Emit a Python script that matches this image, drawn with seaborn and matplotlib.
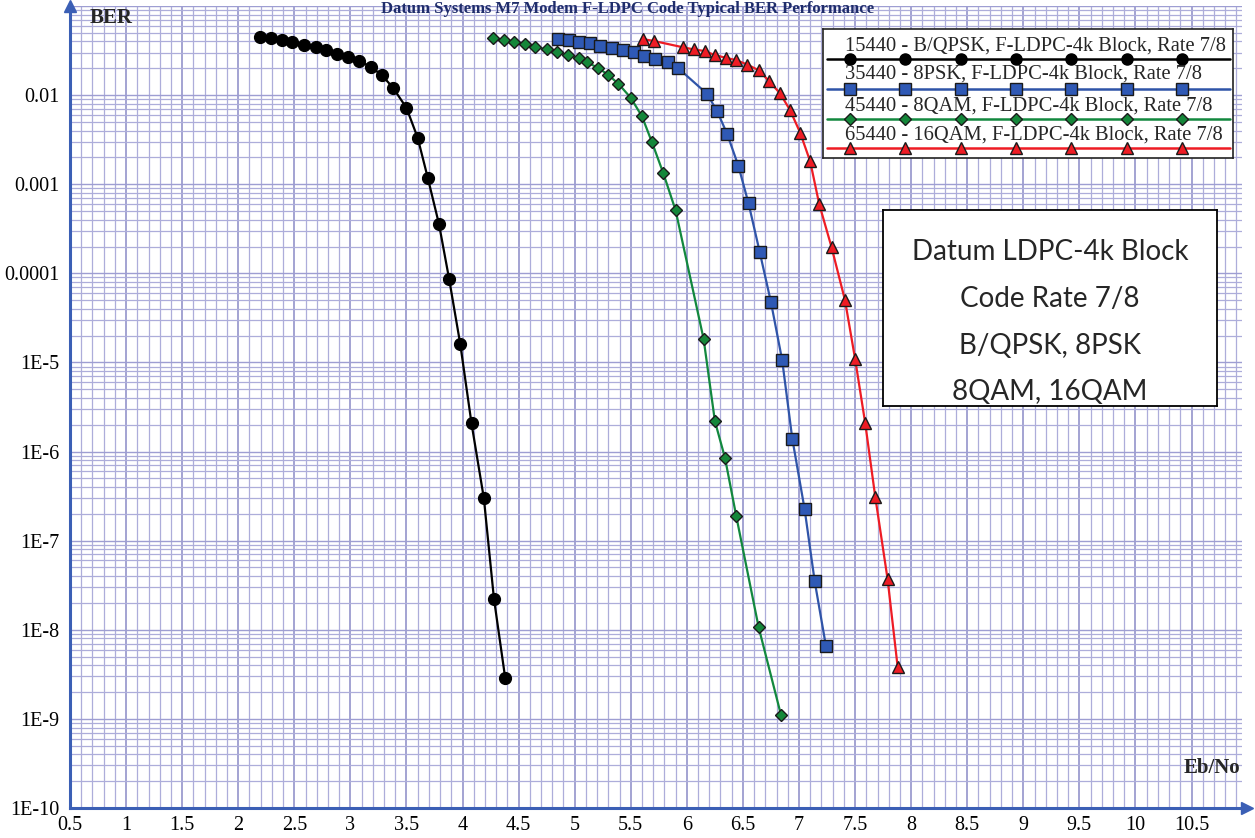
import numpy as np
import pandas as pd
import matplotlib
matplotlib.use("Agg")
import matplotlib.pyplot as plt
import matplotlib.ticker as mticker
import seaborn as sns

# ---------------- data ----------------
bpsk_x = [2.19, 2.29, 2.39, 2.48, 2.59, 2.69, 2.78, 2.88, 2.98, 3.08, 3.18, 3.28,
          3.38, 3.50, 3.60, 3.69, 3.79, 3.88, 3.98, 4.08, 4.19, 4.28, 4.38]
bpsk_y = [0.0451, 0.0433, 0.0414, 0.039, 0.0364, 0.0343, 0.032, 0.0291, 0.0267,
          0.0241, 0.0208, 0.0168, 0.0121, 0.0072, 0.00332, 0.00118, 3.57e-4,
          8.7e-5, 1.6e-5, 2.07e-6, 3.0e-7, 2.24e-8, 2.9e-9]

psk8_x = [4.85, 4.95, 5.04, 5.14, 5.23, 5.33, 5.43, 5.53, 5.62, 5.72, 5.83, 5.92,
          6.18, 6.27, 6.36, 6.46, 6.55, 6.65, 6.75, 6.85, 6.94, 7.05, 7.14, 7.24]
psk8_y = [0.0425, 0.0414, 0.039, 0.038, 0.0355, 0.034, 0.032, 0.0301, 0.0274,
          0.0254, 0.0233, 0.0202, 0.01035, 0.0066, 0.00365, 0.0016, 6.1e-4,
          1.73e-4, 4.75e-5, 1.06e-5, 1.4e-6, 2.26e-7, 3.5e-8, 6.6e-9]

qam8_x = [4.27, 4.37, 4.46, 4.56, 4.65, 4.75, 4.84, 4.94, 5.04, 5.11, 5.21, 5.30,
          5.39, 5.50, 5.60, 5.69, 5.79, 5.90, 6.15, 6.25, 6.34, 6.44, 6.64, 6.84]
qam8_y = [0.0433, 0.0414, 0.039, 0.037, 0.0346, 0.0326, 0.0301, 0.0281, 0.0258,
          0.0233, 0.0202, 0.0168, 0.0134, 0.00933, 0.00577, 0.00294, 0.00133,
          5.08e-4, 1.82e-5, 2.2e-6, 8.5e-7, 1.9e-7, 1.07e-8, 1.1e-9]

qam16_x = [5.61, 5.71, 5.97, 6.06, 6.16, 6.25, 6.35, 6.44, 6.54, 6.64, 6.73, 6.83,
           6.92, 7.01, 7.10, 7.18, 7.29, 7.41, 7.50, 7.59, 7.68, 7.79, 7.88]
qam16_y = [0.0425, 0.0404, 0.0343, 0.0326, 0.0312, 0.0281, 0.0262, 0.0247, 0.022,
           0.019, 0.0145, 0.0105, 0.0068, 0.0038, 0.0018, 6.0e-4, 1.97e-4, 5.0e-5,
           1.1e-5, 2.1e-6, 3.1e-7, 3.7e-8, 3.8e-9]

series_names = ["15440 - B/QPSK, F-LDPC-4k Block, Rate 7/8",
                "35440 - 8PSK, F-LDPC-4k Block, Rate 7/8",
                "45440 - 8QAM, F-LDPC-4k Block, Rate 7/8",
                "65440 - 16QAM, F-LDPC-4k Block, Rate 7/8"]

x_ticks = [0.5, 1, 1.5, 2, 2.5, 3, 3.5, 4, 4.5, 5, 5.5, 6, 6.5, 7, 7.5, 8, 8.5,
           9, 9.5, 10, 10.5]
x_tick_labels = ["0.5", "1", "1.5", "2", "2.5", "3", "3.5", "4", "4.5", "5", "5.5",
                 "6", "6.5", "7", "7.5", "8", "8.5", "9", "9.5", "10", "10.5"]
y_ticks = [1e-10, 1e-9, 1e-8, 1e-7, 1e-6, 1e-5, 1e-4, 1e-3, 1e-2, 1e-1]
y_tick_labels = ["1E-10", "1E-9", "1E-8", "1E-7", "1E-6", "1E-5", "0.0001",
                 "0.001", "0.01", ""]

box_lines = ["Datum LDPC-4k Block", "Code Rate 7/8", "B/QPSK, 8PSK", "8QAM, 16QAM"]
title_text = "Datum Systems M7 Modem F-LDPC Code Typical BER Performance"

# ---------------- style ----------------
sns.set_theme(style="white")
plt.rcParams["font.family"] = ["Liberation Serif", "DejaVu Serif"]

line_colors = ["#000000", "#2f54a8", "#12883e", "#ee1c24"]
face_colors = ["#000000", "#2f59b5", "#15873a", "#ee1c24"]
edge_colors = ["#000000", "#1a1a1a", "#1a1a1a", "#1a1a1a"]
markers = ["o", "s", "D", "^"]
msizes = [8.5, 8.5, 6.5, 8.5]

axis_blue = "#3b5fb5"

fig = plt.figure(figsize=(12.55, 8.38), dpi=100)
ax = fig.add_axes([70 / 1255, 30 / 838, (1242 - 70) / 1255, 802 / 838])

data = [(bpsk_x, bpsk_y), (psk8_x, psk8_y), (qam8_x, qam8_y), (qam16_x, qam16_y)]
for i, (xs, ys) in enumerate(data):
    df = pd.DataFrame({"ebno": xs, "ber": ys})
    sns.lineplot(data=df, x="ebno", y="ber", ax=ax, sort=False, estimator=None,
                 errorbar=None, color=line_colors[i], linewidth=1.6,
                 marker=markers[i], markersize=msizes[i],
                 markerfacecolor=face_colors[i], markeredgecolor=edge_colors[i],
                 markeredgewidth=1.0, zorder=5, clip_on=False)

ax.set_yscale("log")
ax.set_xlim(0.5, 10.95)
ax.set_ylim(1e-10, 0.1)

ax.xaxis.set_major_locator(mticker.FixedLocator(x_ticks))
ax.xaxis.set_major_formatter(mticker.FixedFormatter(x_tick_labels))
ax.xaxis.set_minor_locator(mticker.MultipleLocator(0.1))
ax.yaxis.set_major_locator(mticker.FixedLocator(y_ticks))
ax.yaxis.set_major_formatter(mticker.FixedFormatter(y_tick_labels))
ax.yaxis.set_minor_locator(mticker.LogLocator(base=10, subs=np.arange(2, 10), numticks=20))
ax.yaxis.set_minor_formatter(mticker.NullFormatter())

ax.set_axisbelow(True)
ax.grid(which="major", axis="x", color="#8a8ac6", linewidth=1.1)
ax.grid(which="minor", axis="x", color="#adadda", linewidth=0.9)
ax.grid(which="major", axis="y", color="#9e9ed2", linewidth=1.0)
ax.grid(which="minor", axis="y", color="#adadda", linewidth=0.9)

ax.tick_params(axis="x", which="both", length=0, labelsize=14.5, pad=6, colors="black")
ax.tick_params(axis="y", which="major", length=14, width=1.2, direction="inout",
               color=axis_blue, labelsize=14.5, pad=0.5, labelcolor="black")
ax.tick_params(axis="y", which="minor", length=0)

for s in ["top", "right"]:
    ax.spines[s].set_visible(False)
for s in ["left", "bottom"]:
    ax.spines[s].set_color(axis_blue)
    ax.spines[s].set_linewidth(2.2)
    ax.spines[s].set_zorder(6)

ax.plot(1.004, 0, marker=">", color=axis_blue, markersize=9, transform=ax.transAxes,
        clip_on=False, zorder=7)
ax.plot(0, 1.0, marker="^", color=axis_blue, markersize=9, transform=ax.transAxes,
        clip_on=False, zorder=7)

ax.set_xlabel("")
ax.set_ylabel("")
ax.text(0.017, 0.985, "BER", transform=ax.transAxes, fontsize=15, fontweight="bold",
        ha="left", va="center")
ax.text(0.9985, 0.05, "Eb/No", transform=ax.transAxes, fontsize=15, fontweight="bold",
        ha="right", va="center")

fig.text(0.5, 0.999, title_text, fontsize=12, fontweight="bold", color="#1f2d6b",
         ha="center", va="top")

# ---------------- legend box ----------------
lax = fig.add_axes([823 / 1255, (838 - 158) / 838, 410 / 1255, 129 / 838])
lax.set_xlim(0, 1)
lax.set_ylim(0, 1)
lax.set_xticks([])
lax.set_yticks([])
lax.set_facecolor("white")
for s in lax.spines.values():
    s.set_color("#222222")
    s.set_linewidth(1.2)
text_y = [0.868, 0.651, 0.403, 0.178]
line_y = [0.767, 0.535, 0.302, 0.078]
mk_x = np.linspace(0.066, 0.876, 7)
for i in range(4):
    lax.text(0.054, text_y[i], series_names[i], fontsize=14.8, ha="left", va="center")
    lax.plot([0.01, 0.993], [line_y[i], line_y[i]], color=line_colors[i], linewidth=1.8)
    lax.plot(mk_x, [line_y[i]] * 7, linestyle="none", marker=markers[i],
             markersize=msizes[i] - 0.5 if i != 2 else 6, markerfacecolor=face_colors[i],
             markeredgecolor=edge_colors[i], markeredgewidth=1.0, clip_on=False)

# ---------------- text box ----------------
tax = fig.add_axes([883 / 1255, (838 - 406) / 838, 334 / 1255, 196 / 838])
tax.set_xlim(0, 1)
tax.set_ylim(0, 1)
tax.set_xticks([])
tax.set_yticks([])
tax.set_facecolor("white")
for s in tax.spines.values():
    s.set_color("black")
    s.set_linewidth(1.3)
for txt, yy in zip(box_lines, [0.785, 0.545, 0.305, 0.070]):
    tax.text(0.5, yy, txt, fontsize=20, family=["Lato", "DejaVu Sans"],
             ha="center", va="center")

fig.savefig("out.png", dpi=100)
